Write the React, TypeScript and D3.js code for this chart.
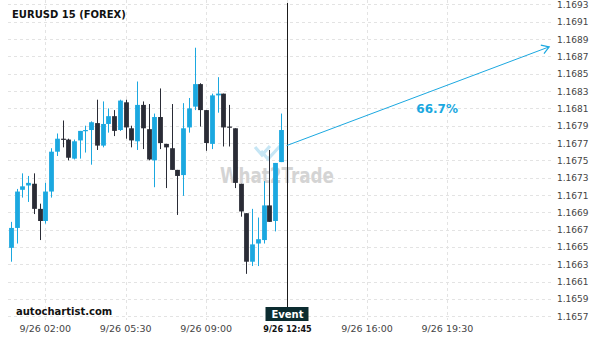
import React from "react";
import * as d3 from "d3";

// ---- data ----
const opens = [1.16649,1.16672,1.16716,1.16721,1.16723,1.16694,1.16680,1.16714,1.16760,1.16775,1.16774,1.16752,1.16773,1.16784,1.16785,1.16793,1.16767,1.16792,1.16801,1.16785,1.16817,1.16787,1.16772,1.16814,1.16786,1.16750,1.16800,1.16769,1.16764,1.16739,1.16733,1.16788,1.16812,1.16838,1.16808,1.16769,1.16825,1.16827,1.16789,1.16787,1.16723,1.16689,1.16633,1.16654,1.16658,1.16698,1.16680,1.16748];
const highs = [1.16679,1.16717,1.16735,1.16732,1.16735,1.16700,1.16724,1.16764,1.16781,1.16796,1.16775,1.16774,1.16784,1.16790,1.16795,1.16820,1.16818,1.16810,1.16808,1.16820,1.16820,1.16790,1.16841,1.16818,1.16815,1.16804,1.16833,1.16769,1.16815,1.16739,1.16816,1.16822,1.16880,1.16839,1.16808,1.16827,1.16846,1.16827,1.16814,1.16787,1.16723,1.16689,1.16694,1.16684,1.16726,1.16762,1.16747,1.16804];
const lows = [1.16633,1.16654,1.16707,1.16702,1.16688,1.16658,1.16677,1.16707,1.16755,1.16765,1.16750,1.16751,1.16752,1.16759,1.16745,1.16762,1.16765,1.16782,1.16778,1.16784,1.16775,1.16765,1.16762,1.16763,1.16750,1.16719,1.16763,1.16718,1.16739,1.16687,1.16709,1.16782,1.16808,1.16789,1.16761,1.16763,1.16805,1.16766,1.16766,1.16718,1.16685,1.16619,1.16628,1.16628,1.16654,1.16679,1.16668,1.16748];
const closes = [1.16672,1.16714,1.16720,1.16724,1.16694,1.16680,1.16714,1.16760,1.16775,1.16774,1.16753,1.16772,1.16784,1.16785,1.16794,1.16767,1.16792,1.16801,1.16784,1.16819,1.16788,1.16773,1.16814,1.16787,1.16751,1.16800,1.16770,1.16765,1.16739,1.16732,1.16787,1.16810,1.16838,1.16808,1.16770,1.16825,1.16827,1.16788,1.16788,1.16724,1.16691,1.16633,1.16653,1.16659,1.16698,1.16679,1.16747,1.16785];

const xTickIndex = [6, 20, 34, 62, 76];
const xTickLabels = ["9/26 02:00", "9/26 05:30", "9/26 09:00", "9/26 16:00", "9/26 19:30"];
const eventIndex = 48;
const eventLabel = "9/26 12:45";
const yTicks = d3.range(0, 19).map((i) => +(1.1657 + i * 0.0002).toFixed(4));

const projStart = [48, 1.16767];
const projEnd = [93.7, 1.16881];
const projLabel = "66.7%";
const projLabelAt = [74.2, 1.16805];

const title = "EURUSD 15 (FOREX)";
const brand = "autochartist.com";

const BLUE = "#1ba8e0";
const DARK = "#2a2c36";

export default function App() {
  const x = d3.scaleLinear().domain([0, 77]).range([10.8, 453.2]);
  const y = d3.scaleLinear().domain([1.1657, 1.1693]).range([316.3, 4.4]);
  const bw = 4.8;
  const font = "'DejaVu Sans', sans-serif";

  const sx = x(projStart[0]), sy = y(projStart[1]);
  const ex = x(projEnd[0]), ey = y(projEnd[1]);
  const ang = Math.atan2(sy - ey, sx - ex);
  const al = 8.5, spread = (32 * Math.PI) / 180;
  const a1 = [ex + al * Math.cos(ang - spread), ey + al * Math.sin(ang - spread)];
  const a2 = [ex + al * Math.cos(ang + spread), ey + al * Math.sin(ang + spread)];
  const evx = Math.round(x(eventIndex)) + 0.5;

  return (
    <div style={{ position: "fixed", left: 0, top: 0 }}>
      <svg width={600} height={340} style={{ display: "block", background: "#fff" }}>
        {/* grid */}
        {yTicks.map((t) => (
          <line key={"h" + t} x1={8} x2={553} y1={Math.round(y(t)) + 0.5} y2={Math.round(y(t)) + 0.5}
            stroke="#e3e3e3" strokeDasharray="3,3" />
        ))}
        {[...xTickIndex, eventIndex].map((i) => (
          <line key={"v" + i} x1={Math.round(x(i)) + 0.5} x2={Math.round(x(i)) + 0.5} y1={0} y2={320}
            stroke="#e3e3e3" strokeDasharray="3,3" />
        ))}

        {/* watermark */}
        <g>
          <path d="M255,147 L262,155 L270,146 M261,151 L268,159 L280,146" fill="none" stroke="#c6e6f5" strokeWidth={3.2} />
          <text x={220} y={183} fontFamily={font} fontWeight="bold" fontSize={22} fill="#d4d4d4"
            textLength={114} lengthAdjust="spacingAndGlyphs">What2Trade</text>
        </g>

        {/* candles */}
        {opens.map((o, i) => {
          const c = closes[i];
          const col = c >= o ? BLUE : DARK;
          const cx = Math.round(x(i)) + 0.5;
          const top = y(Math.max(o, c));
          const bot = y(Math.min(o, c));
          return (
            <g key={i}>
              <line x1={cx} x2={cx} y1={y(highs[i])} y2={y(lows[i])} stroke={col} strokeWidth={1} />
              <rect x={cx - bw / 2} y={top} width={bw} height={Math.max(1.2, bot - top)} fill={col} />
            </g>
          );
        })}

        {/* event line */}
        <line x1={evx} x2={evx} y1={3} y2={307} stroke="#1b1b1b" strokeWidth={1} />

        {/* projection */}
        <line x1={sx} y1={sy} x2={ex} y2={ey} stroke={BLUE} strokeWidth={1} />
        <polyline points={`${a1[0]},${a1[1]} ${ex},${ey} ${a2[0]},${a2[1]}`} fill="none" stroke={BLUE} strokeWidth={1.2} />
        <text x={x(projLabelAt[0])} y={y(projLabelAt[1])} textAnchor="middle" fontFamily={font} fontWeight="bold"
          fontSize={12} fill={BLUE}>{projLabel}</text>

        {/* title / brand */}
        <text x={12} y={18} fontFamily={font} fontWeight="bold" fontSize={10} fill="#111">{title}</text>
        <text x={16} y={315} fontFamily={font} fontWeight="bold" fontSize={10} fill="#111">{brand}</text>

        {/* y axis labels */}
        {yTicks.map((t) => (
          <text key={"yl" + t} x={557} y={y(t) + 3.5} fontFamily={font} fontSize={9} fill="#444">{t.toFixed(4)}</text>
        ))}

        {/* x axis labels */}
        {xTickIndex.map((i, k) => (
          <text key={"xl" + i} x={x(i)} y={332} textAnchor="middle" fontFamily={font} fontSize={9.5} fill="#444">
            {xTickLabels[k]}
          </text>
        ))}

        {/* event box */}
        <rect x={evx - 22} y={307} width={43} height={14} fill="#0c2c30" />
        <text x={evx} y={318} textAnchor="middle" fontFamily={font} fontWeight="bold" fontSize={10} fill="#fff">Event</text>
        <text x={evx} y={332} textAnchor="middle" fontFamily="'DejaVu Sans Condensed', 'DejaVu Sans', sans-serif"
          fontWeight="bold" fontSize={9} fill="#111">{eventLabel}</text>
      </svg>
    </div>
  );
}
